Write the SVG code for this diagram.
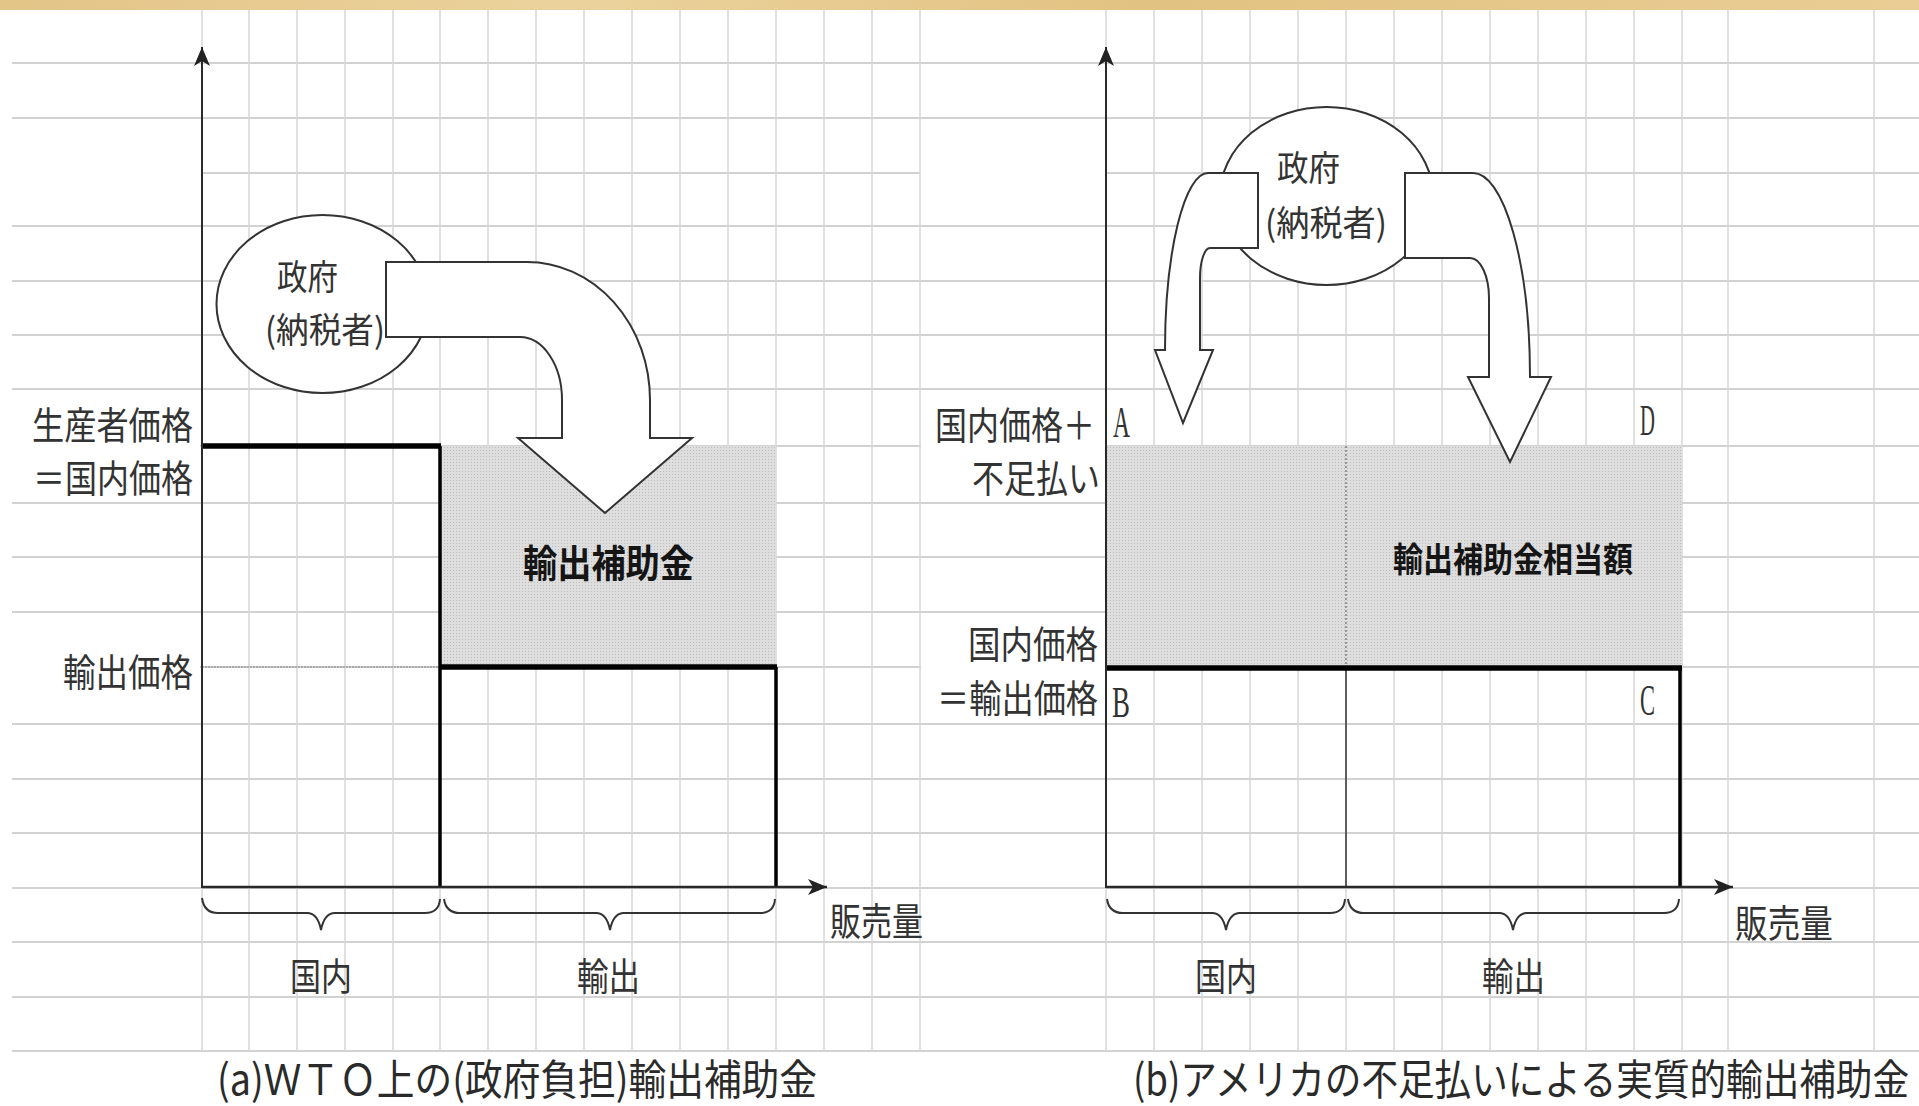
<svg xmlns="http://www.w3.org/2000/svg" width="1919" height="1106" viewBox="0 0 1919 1106">
<style>
.gh{stroke:#d2d2d2;stroke-width:2;fill:none}
.gv{stroke:#d6d6d6;stroke-width:1.5;fill:none}
.t{font-family:"Noto Sans CJK JP","Noto Sans",sans-serif;fill:#333;dominant-baseline:central;font-size:38px}
.n{font-size:35px}
.cap{font-size:42px;fill:#2a2a2a}
.b{font-weight:bold;fill:#151515}
.s{font-family:"Liberation Serif",serif;font-size:44px;fill:#333}
.ax{stroke:#2a2a2a;stroke-width:2;fill:none}
.xa{stroke:#2a2a2a;stroke-width:2.5;fill:none}
.th{stroke:#000;stroke-width:5.5;fill:none}
.tv{stroke:#000;stroke-width:3.5;fill:none}
.br{stroke:#333;stroke-width:2;fill:none}
.blk{fill:#fff;stroke:#333;stroke-width:2}
.ell{fill:#fff;stroke:#333;stroke-width:2}
.wb{fill:#fff}
</style>
<defs>
<pattern id="dots" width="3" height="3" patternUnits="userSpaceOnUse">
<rect width="3" height="3" fill="#dedede"/>
<rect width="1" height="1" fill="#bbbbbb"/>
</pattern>
<marker id="ah" markerWidth="22" markerHeight="20" refX="20" refY="10" orient="auto" markerUnits="userSpaceOnUse">
<path d="M20,10 L1,2 L6,10 L1,18 Z" fill="#222"/>
</marker>
<linearGradient id="wood" x1="0" y1="0" x2="1" y2="0">
<stop offset="0" stop-color="#e3c487"/>
<stop offset="0.3" stop-color="#ebd29c"/>
<stop offset="0.6" stop-color="#e2c282"/>
<stop offset="1" stop-color="#e9cd94"/>
</linearGradient>
</defs>

<rect width="1919" height="1106" fill="#fff"/>
<rect width="1919" height="10" fill="url(#wood)"/>

<g id="grid">
<path class="gh" d="M12,63H1919M12,118H1919M202,173H920M1106,173H1919M12,226H1919M12,281H1919M12,335H1919M12,389H1919M12,446H1919M12,503H1919M12,557H1919M12,612H1919M12,667H1919M12,724H1919M12,779H1919M12,833H1919M12,888H1919M12,942H1919M12,997H1919M12,1051H1919"/>
<path class="gv" d="M202,10V1051M249,10V1051M297,10V1051M345,10V1051M393,10V1051M440,10V1051M488,10V1051M536,10V1051M584,10V1051M632,10V1051M680,10V1051M728,10V1051M776,10V1051M824,10V1051M872,10V1051M920,10V1051M1106,10V1051M1154,10V1051M1202,10V1051M1250,10V1051M1298,10V1051M1346,10V1051M1394,10V1051M1442,10V1051M1490,10V1051M1538,10V1051M1586,10V1051M1634,10V1051M1682,10V1051M1728,10V1051M1874,10V1051"/>
</g>

<g id="label-boxes">
<rect class="wb" x="12" y="400" width="188" height="97"/>
<rect class="wb" x="12" y="645" width="188" height="46"/>
<rect class="wb" x="921" y="400" width="184" height="97"/>
<rect class="wb" x="921" y="617" width="184" height="104"/>
</g>

<g id="panel-a">
<g id="a-subsidy-area">
<rect x="440" y="446" width="336" height="221" fill="url(#dots)"/>
</g>
<g id="a-price-lines">
<line x1="202" y1="667" x2="440" y2="667" stroke="#9a9a9a" stroke-width="1.5" stroke-dasharray="2 1"/>
<path class="th" d="M202,446H441"/>
<path class="tv" d="M440,446V888"/>
<path class="th" d="M440,667H777"/>
<path class="tv" d="M776,667V888"/>
</g>
</g>

<g id="panel-b">
<g id="b-subsidy-area">
<rect x="1106" y="446" width="575" height="221" fill="url(#dots)"/>
<line x1="1346" y1="446" x2="1346" y2="667" stroke="#555" stroke-width="1" stroke-dasharray="2 2"/>
</g>
<g id="b-price-lines">
<line x1="1346" y1="667" x2="1346" y2="888" stroke="#333" stroke-width="1.5"/>
<path class="th" d="M1106,668H1682"/>
<path class="tv" d="M1680,668V888"/>
</g>
</g>

<g id="connectors">
<line class="ax" x1="202" y1="888" x2="202" y2="47" marker-end="url(#ah)"/>
<line class="xa" x1="202" y1="887" x2="827" y2="887" marker-end="url(#ah)"/>
<line class="ax" x1="1106" y1="888" x2="1106" y2="47" marker-end="url(#ah)"/>
<line class="xa" x1="1106" y1="887" x2="1733" y2="887" marker-end="url(#ah)"/>
<path class="br" d="M202,898 Q204,913 218,913 H308 Q318,914 321,930 Q324,914 334,913 H425 Q439,913 440,899"/>
<path class="br" d="M444,899 Q446,913 460,913 H597 Q607,914 610,930 Q613,914 623,913 H760 Q774,913 775,899"/>
<path class="br" d="M1107,899 Q1109,913 1123,913 H1213 Q1223,914 1226,930 Q1229,914 1239,913 H1330 Q1344,913 1345,899"/>
<path class="br" d="M1348,899 Q1350,913 1364,913 H1500 Q1510,914 1513,930 Q1516,914 1526,913 H1664 Q1678,913 1679,899"/>
</g>

<g id="node-gov-a">
<ellipse class="ell" cx="322.5" cy="304" rx="106" ry="89"/>
<path id="arrow-a" class="blk" d="M386,262 H527 A123,138 0 0 1 650,400 V438 H692 L605,513 L518,438 H562 V400 A42,63 0 0 0 520,337 H386 Z"/>
<text class="t n" x="277" y="274" textLength="61" lengthAdjust="spacingAndGlyphs">政府</text>
<text class="t n" x="265" y="327" textLength="120" lengthAdjust="spacingAndGlyphs">(納税者)</text>
</g>

<g id="node-gov-b">
<ellipse class="ell" cx="1326.5" cy="196" rx="106.5" ry="89"/>
<path id="arrow-b-left" class="blk" d="M1258,173 H1208 A43,177 0 0 0 1165,350 H1155 L1183,423 L1213,350 H1200 V278 A10,30 0 0 1 1210,248 H1258 Z"/>
<path id="arrow-b-right" class="blk" d="M1405,173 H1473 A57,204 0 0 1 1530,377 H1551 L1510,462 L1468,377 H1489 V298 A19,40 0 0 0 1470,258 H1405 Z"/>
<text class="t n" x="1277" y="165" textLength="63" lengthAdjust="spacingAndGlyphs">政府</text>
<text class="t n" x="1265" y="220" textLength="122" lengthAdjust="spacingAndGlyphs">(納税者)</text>
</g>

<g id="labels-a">
<text class="t" x="32" y="422" textLength="161" lengthAdjust="spacingAndGlyphs">生産者価格</text>
<text class="t" x="33" y="475" textLength="160" lengthAdjust="spacingAndGlyphs">＝国内価格</text>
<text class="t" x="63" y="669" textLength="130" lengthAdjust="spacingAndGlyphs">輸出価格</text>
<text class="t b" x="523" y="560" textLength="171" lengthAdjust="spacingAndGlyphs">輸出補助金</text>
<text class="t" x="290" y="973" textLength="62" lengthAdjust="spacingAndGlyphs">国内</text>
<text class="t" x="577" y="973" textLength="63" lengthAdjust="spacingAndGlyphs">輸出</text>
<text class="t" x="830" y="918" textLength="93" lengthAdjust="spacingAndGlyphs">販売量</text>
<text class="t cap" x="217" y="1076" textLength="600" lengthAdjust="spacingAndGlyphs">(a)ＷＴＯ上の(政府負担)輸出補助金</text>
</g>

<g id="labels-b">
<text class="t" transform="translate(1095,422) scale(0.842,1)" text-anchor="end">国内価格＋</text>
<text class="t" x="972" y="475" textLength="128" lengthAdjust="spacingAndGlyphs">不足払い</text>
<text class="t" x="968" y="641" textLength="130" lengthAdjust="spacingAndGlyphs">国内価格</text>
<text class="t" transform="translate(1098,695) scale(0.847,1)" text-anchor="end">＝輸出価格</text>
<text class="s" transform="translate(1113,437) scale(0.535,1)">A</text>
<text class="s" transform="translate(1640,435) scale(0.47,1)">D</text>
<text class="s" transform="translate(1112,717) scale(0.61,1)">B</text>
<text class="s" transform="translate(1640,715) scale(0.51,1)">C</text>
<text class="t b" x="1393" y="557" textLength="240" lengthAdjust="spacingAndGlyphs" style="font-size:34px">輸出補助金相当額</text>
<text class="t" x="1195" y="973" textLength="62" lengthAdjust="spacingAndGlyphs">国内</text>
<text class="t" x="1482" y="973" textLength="63" lengthAdjust="spacingAndGlyphs">輸出</text>
<text class="t" x="1735" y="920" textLength="98" lengthAdjust="spacingAndGlyphs">販売量</text>
<text class="t cap" transform="translate(1133,1076) scale(1,1.14)" x="0" y="0" textLength="776" lengthAdjust="spacingAndGlyphs" style="font-size:37px">(b)アメリカの不足払いによる実質的輸出補助金</text>
</g>
</svg>
